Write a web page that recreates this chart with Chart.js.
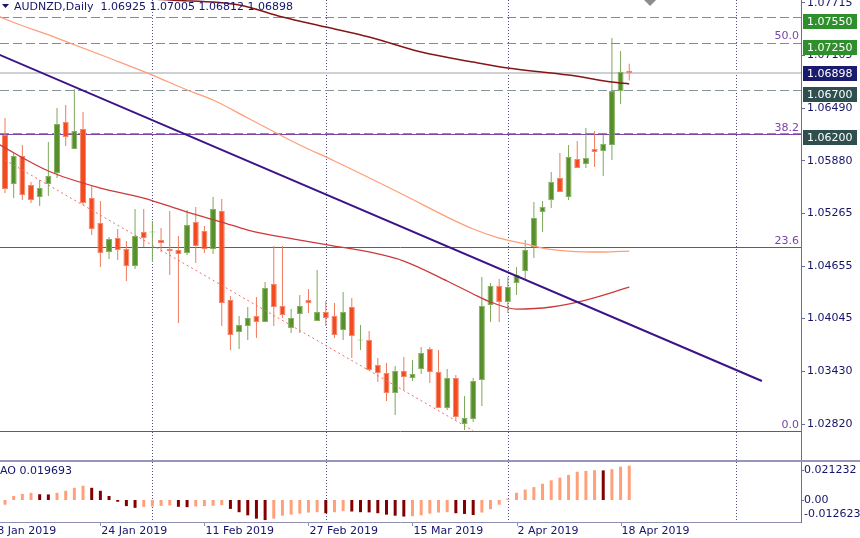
<!DOCTYPE html>
<html>
<head>
<meta charset="utf-8">
<title>AUDNZD Daily</title>
<script src="https://cdn.jsdelivr.net/npm/chart.js@4.4.1/dist/chart.umd.min.js"></script>
<style>
    html, body { margin: 0; padding: 0; background: #fff; }
    #wrap { position: relative; width: 860px; height: 538px; overflow: hidden; }
    #mainChart { position: absolute; left: 0; top: 0; }
    #aoChart { position: absolute; left: 0; top: 460px; }
</style>
</head>
<body>
<div id="wrap">
    <canvas id="mainChart" width="860" height="460"></canvas>
    <canvas id="aoChart" width="860" height="78"></canvas>
</div>
<script>
// Chart data (daily candles, 9 Jan 2019 .. 19 Apr 2019, index 0 = 9 Jan)
const symbol = 'AUDNZD';
const period = 'Daily';

const opens = [
    1.06178, 1.05609, 1.05934, 1.05597, 1.05458, 1.05609, 1.05737, 1.06329, 1.06016, 1.06248,
    1.05446, 1.05156, 1.04819, 1.04981, 1.04854, 1.04656, 1.05051, 1.05045, 1.04958, 1.04854,
    1.04842, 1.04807, 1.05167, 1.05063, 1.04854, 1.05295, 1.04261, 1.03889, 1.03959, 1.04075,
    1.04005, 1.04447, 1.04191, 1.03936, 1.04098, 1.04261, 1.04017, 1.04121, 1.04075, 1.03912,
    1.04180, 1.03790, 1.03796, 1.03506, 1.03413, 1.03180, 1.03436, 1.03355, 1.03459, 1.03692,
    1.03424, 1.03006, 1.03355, 1.02820, 1.02878, 1.03331, 1.04203, 1.04424, 1.04238, 1.04458,
    1.04598, 1.04877, 1.05283, 1.05423, 1.05679, 1.05458, 1.05899, 1.05841, 1.06016, 1.05992,
    1.06062, 1.06689, 1.06925
];
const highs = [
    1.06376, 1.05969, 1.06062, 1.05632, 1.05655, 1.06097, 1.06492, 1.06527, 1.06713, 1.06445,
    1.05586, 1.05411, 1.04993, 1.05086, 1.04946, 1.05318, 1.05318, 1.05179, 1.05098, 1.05295,
    1.05005, 1.05307, 1.05342, 1.05121, 1.05458, 1.05435, 1.04307, 1.04075, 1.04180, 1.04296,
    1.04470, 1.04888, 1.04888, 1.04156, 1.04319, 1.04389, 1.04609, 1.04249, 1.04226, 1.04354,
    1.04284, 1.03970, 1.03901, 1.03587, 1.03529, 1.03494, 1.03599, 1.03564, 1.03715, 1.03715,
    1.03680, 1.03459, 1.03389, 1.03145, 1.03355, 1.04528, 1.04458, 1.04505, 1.04528, 1.04644,
    1.04958, 1.05400, 1.05411, 1.05748, 1.05969, 1.06062, 1.06108, 1.06260, 1.06225, 1.06178,
    1.07305, 1.07154, 1.07005
];
const lows = [
    1.05504, 1.05446, 1.05423, 1.05388, 1.05353, 1.05469, 1.05679, 1.06050, 1.06016, 1.05365,
    1.05016, 1.04644, 1.04737, 1.04726, 1.04482, 1.04621, 1.04877, 1.04702, 1.04819, 1.04551,
    1.03994, 1.04784, 1.04691, 1.04807, 1.04795, 1.03959, 1.03680, 1.03692, 1.03796, 1.03819,
    1.04005, 1.03959, 1.04052, 1.03877, 1.03877, 1.04110, 1.04017, 1.03959, 1.03819, 1.03796,
    1.03587, 1.03680, 1.03447, 1.03308, 1.03087, 1.02925, 1.03215, 1.03320, 1.03401, 1.03296,
    1.03006, 1.02983, 1.02866, 1.02750, 1.02843, 1.03029, 1.04005, 1.04005, 1.04110, 1.04319,
    1.04505, 1.04749, 1.05051, 1.05330, 1.05516, 1.05423, 1.05795, 1.05795, 1.05806, 1.05702,
    1.05888, 1.06538, 1.06812
];
const closes = [
    1.05551, 1.05934, 1.05481, 1.05423, 1.05562, 1.05702, 1.06306, 1.06155, 1.06225, 1.05388,
    1.05086, 1.04807, 1.04970, 1.04842, 1.04656, 1.05005, 1.04981, 1.05057, 1.04923, 1.04830,
    1.04795, 1.05132, 1.04888, 1.04854, 1.05318, 1.04226, 1.03854, 1.03970, 1.04052, 1.04005,
    1.04400, 1.04180, 1.04087, 1.04052, 1.04191, 1.04226, 1.04121, 1.04052, 1.03854, 1.04121,
    1.03843, 1.03802, 1.03447, 1.03413, 1.03180, 1.03436, 1.03366, 1.03401, 1.03645, 1.03424,
    1.03006, 1.03355, 1.02901, 1.02890, 1.03320, 1.04191, 1.04424, 1.04238, 1.04412, 1.04551,
    1.04842, 1.05214, 1.05342, 1.05632, 1.05516, 1.05923, 1.05795, 1.05911, 1.05981, 1.06074,
    1.06689, 1.06910, 1.06898
];

// Awesome Oscillator, one value per candle
const aoValues = [
    -0.0027, 0.0023, 0.0035, 0.0041, 0.0033, 0.0032, 0.0041, 0.0053, 0.0070, 0.0082,
    0.0070, 0.0053, 0.0023, -0.0010, -0.0035, -0.0045, -0.0039, -0.0037, -0.0034, -0.0031,
    -0.0039, -0.0041, -0.0037, -0.0035, -0.0033, -0.0029, -0.0051, -0.0070, -0.0088, -0.0107,
    -0.0115, -0.0107, -0.0090, -0.0084, -0.0078, -0.0072, -0.0070, -0.0076, -0.0070, -0.0064,
    -0.0066, -0.0070, -0.0071, -0.0076, -0.0084, -0.0090, -0.0095, -0.0093, -0.0088, -0.0078,
    -0.0072, -0.0070, -0.0076, -0.0080, -0.0086, -0.0072, -0.0053, -0.0027, 0.0008, 0.0041,
    0.0060, 0.0074, 0.0093, 0.0113, 0.0128, 0.0144, 0.0162, 0.0167, 0.0171, 0.0170,
    0.0177, 0.0191, 0.019693
];

// Moving averages, read at some candles
const slowMaIdx = [10, 17, 19, 27, 32, 37, 42, 48, 54, 58, 65, 70, 72];
const slowMa = [1.07817, 1.07759, 1.07747, 1.07689, 1.07549, 1.07433, 1.07317, 1.07143, 1.07026, 1.06957, 1.06875, 1.06794, 1.06771];
const midMaIdx = [-1, 0, 6, 12, 17, 21, 24, 28, 34, 38, 46, 51, 54, 57, 60, 62, 65, 69, 72];
const midMa = [1.07573, 1.07526, 1.07305, 1.07073, 1.06875, 1.06701, 1.06585, 1.06376, 1.06062, 1.05876, 1.05481, 1.05225, 1.05086, 1.04981, 1.04912, 1.04865, 1.04830, 1.04819, 1.04830];
const fastMaIdx = [-1, 5, 11, 16, 21, 25, 28, 34, 38, 42, 46, 51, 54, 56, 59, 63, 67, 72];
const fastMa = [1.06085, 1.05760, 1.05562, 1.05446, 1.05283, 1.05167, 1.05074, 1.04958, 1.04888, 1.04819, 1.04714, 1.04482, 1.04331, 1.04238, 1.04156, 1.04180, 1.04261, 1.04412];

// Drawn objects
const trendIdx = [-1, 87.3];
const trendPrice = [1.07126, 1.03320];
const channelIdx = [0, 54];
const channelPrice = [1.05888, 1.02742];
const targetLevels = [1.07550, 1.07250];
const pivotLevels = [1.06700, 1.06200];
const fibLow = 1.02742;
const fibHigh = 1.11772;
const fibLevels = [0.0, 23.6, 38.2, 50.0];

// Axes
const priceTicks = [1.07715, 1.07105, 1.06490, 1.05880, 1.05265, 1.04655, 1.04045, 1.03430, 1.02820];
const aoMax = 0.021232;
const aoMin = -0.012623;
const xTickIdx = [-1, 11, 23, 35, 47, 59, 71];
const xTickLabels = ['8 Jan 2019', '24 Jan 2019', '11 Feb 2019', '27 Feb 2019', '15 Mar 2019', '2 Apr 2019', '18 Apr 2019'];
const monthGridIdx = [17, 37, 58, 84.3];

// visible window
const xMin = -0.577;
const xMax = 91.81;
const yMin = 1.02402;
const yMax = 1.07747;

Chart.defaults.font.family = 'DejaVu Sans';
Chart.defaults.font.size = 11;
Chart.defaults.color = '#14146a';

const TEXT = '#14146a';
const AXIS = '#6d6d9d';
const FIB = '#7a44a8';

const pts = (idx, vals) => idx.map((x, k) => ({ x: x, y: vals[k] }));
const last = closes.length - 1;
const up = opens.map((o, i) => closes[i] >= o);

function hLine(ctx, py, x0, x1) {
    const yy = Math.round(py) + 0.5;
    ctx.beginPath();
    ctx.moveTo(x0, yy);
    ctx.lineTo(x1, yy);
    ctx.stroke();
}

function vLine(ctx, px, y0, y1) {
    const xx = Math.round(px) + 0.5;
    ctx.beginPath();
    ctx.moveTo(xx, y0);
    ctx.lineTo(xx, y1);
    ctx.stroke();
}

const fibPrice = lv => fibLow + (fibHigh - fibLow) * lv / 100;

// right axis keeps the full height, no room reserved for the end labels
function fixAxis(scale) {
    scale.width = 59;
    scale.paddingTop = 0;
    scale.paddingBottom = 0;
}

// Levels, grid and labels of the price window
const mainOverlay = {
    id: 'mainOverlay',
    beforeDatasetsDraw(chart) {
        const { ctx, chartArea: a, scales: { x, y } } = chart;
        ctx.save();
        ctx.lineWidth = 1;

        // month separators
        ctx.strokeStyle = '#4b4b85';
        ctx.setLineDash([1, 2]);
        monthGridIdx.forEach(i => vLine(ctx, x.getPixelForValue(i), a.top, a.bottom));

        // fibonacci lines (the 50.0 one hides under the 1.07250 target)
        ctx.setLineDash([]);
        ctx.strokeStyle = FIB;
        fibLevels.forEach(lv => {
            if (lv < 50) hLine(ctx, y.getPixelForValue(fibPrice(lv)), a.left, a.right);
        });

        // bid line
        ctx.strokeStyle = '#cdd1d5';
        ctx.lineWidth = 2;
        const by = Math.round(y.getPixelForValue(closes[last]));
        ctx.beginPath();
        ctx.moveTo(a.left, by);
        ctx.lineTo(a.right, by);
        ctx.stroke();

        // dashed levels
        ctx.lineWidth = 1;
        ctx.setLineDash([9, 4]);
        ctx.strokeStyle = '#55b04f';
        targetLevels.forEach(v => hLine(ctx, y.getPixelForValue(v), a.left, a.right));
        ctx.strokeStyle = '#85959a';
        pivotLevels.forEach(v => hLine(ctx, y.getPixelForValue(v), a.left, a.right));
        ctx.restore();
    },
    afterDraw(chart) {
        const { ctx, chartArea: a, scales: { x, y } } = chart;
        ctx.save();
        ctx.font = '11px "DejaVu Sans"';

        // fib labels
        ctx.fillStyle = FIB;
        ctx.textAlign = 'right';
        ctx.textBaseline = 'alphabetic';
        fibLevels.forEach(lv => {
            const py = Math.round(y.getPixelForValue(fibPrice(lv)));
            ctx.fillText(lv.toFixed(1), a.right - 2, py - 3);
        });

        // title
        ctx.textAlign = 'left';
        ctx.textBaseline = 'middle';
        ctx.fillStyle = TEXT;
        ctx.beginPath();
        ctx.moveTo(2, 4);
        ctx.lineTo(9, 4);
        ctx.lineTo(5.5, 8);
        ctx.closePath();
        ctx.fill();
        const ohlc = [opens[last], highs[last], lows[last], closes[last]].map(v => v.toFixed(5)).join(' ');
        ctx.fillText(symbol + ',' + period + '  ' + ohlc, 14, 7);

        // chart shift marker
        const sx = x.getPixelForValue(74.4);
        ctx.fillStyle = '#8c8c8c';
        ctx.beginPath();
        ctx.moveTo(sx - 6, 0);
        ctx.lineTo(sx + 6, 0);
        ctx.lineTo(sx, 6);
        ctx.closePath();
        ctx.fill();

        // price boxes on the axis
        const box = (v, bg, dy) => {
            const top = Math.round(y.getPixelForValue(v)) - dy;
            ctx.fillStyle = bg;
            ctx.fillRect(a.right + 2, top, 54, 15);
            ctx.fillStyle = '#ffffff';
            ctx.fillText(v.toFixed(5), a.right + 6, top + 8);
        };
        targetLevels.forEach(v => box(v, '#2f8f2c', 3));
        pivotLevels.forEach(v => box(v, '#2f4f4f', 3));
        box(closes[last], '#1b1b6e', 7);
        ctx.restore();
    }
};

// AO window decorations
const aoOverlay = {
    id: 'aoOverlay',
    beforeDatasetsDraw(chart) {
        const { ctx, chartArea: a, scales: { x } } = chart;
        ctx.save();
        ctx.lineWidth = 1;
        ctx.strokeStyle = '#4b4b85';
        ctx.setLineDash([1, 2]);
        monthGridIdx.forEach(i => vLine(ctx, x.getPixelForValue(i), 2, a.bottom));
        ctx.restore();
    },
    afterDraw(chart) {
        const { ctx, chartArea: a, scales: { x, y } } = chart;
        ctx.save();
        ctx.fillStyle = '#9696ba';
        ctx.fillRect(0, 0, chart.width, 2);

        ctx.strokeStyle = AXIS;
        ctx.lineWidth = 1;
        vLine(ctx, a.right, 2, a.bottom + 1);
        ctx.strokeStyle = '#8f8fb0';
        hLine(ctx, a.bottom, a.left, a.right);

        ctx.font = '11px "DejaVu Sans"';
        ctx.fillStyle = TEXT;
        ctx.textBaseline = 'middle';
        ctx.textAlign = 'left';
        ctx.fillText('AO ' + aoValues[last].toFixed(6), 0, 11);

        // value labels
        const zy = y.getPixelForValue(0);
        const marks = [[aoMax.toFixed(6), y.getPixelForValue(aoMax) + 7], ['0.00', zy], [aoMin.toFixed(6), y.getPixelForValue(aoMin) - 8]];
        ctx.strokeStyle = AXIS;
        marks.forEach(([t, py]) => {
            ctx.fillText(t, a.right + 3, py);
        });
        [marks[0][1], zy].forEach(py => {
            ctx.beginPath();
            ctx.moveTo(a.right, Math.round(py) + 0.5);
            ctx.lineTo(a.right + 3, Math.round(py) + 0.5);
            ctx.stroke();
        });

        // date labels
        ctx.strokeStyle = '#8f8fb0';
        xTickIdx.forEach((i, k) => {
            const px = x.getPixelForValue(i);
            vLine(ctx, px, a.bottom, a.bottom + 4);
            ctx.fillText(xTickLabels[k], px + 1, a.bottom + 9);
        });
        ctx.restore();
    }
};

let mainChart;
let aoChart;

function initializeCharts() {
    const idx = opens.map((_, i) => i);

    mainChart = new Chart(document.getElementById('mainChart').getContext('2d'), {
        type: 'bar',
        data: {
            datasets: [
                {
                    type: 'line', label: 'Trend', data: pts(trendIdx, trendPrice),
                    borderColor: '#3b1487', borderWidth: 2, pointRadius: 0, order: 0
                },
                {
                    type: 'line', label: 'Channel', data: pts(channelIdx, channelPrice),
                    borderColor: '#f06a6a', borderWidth: 1, borderDash: [2, 3], pointRadius: 0, order: 0
                },
                {
                    type: 'line', label: 'Slow MA', data: pts(slowMaIdx, slowMa),
                    borderColor: '#861515', borderWidth: 1.5, pointRadius: 0,
                    cubicInterpolationMode: 'monotone', order: 1
                },
                {
                    type: 'line', label: 'Mid MA', data: pts(midMaIdx, midMa),
                    borderColor: '#ff9e78', borderWidth: 1.3, pointRadius: 0,
                    cubicInterpolationMode: 'monotone', order: 1
                },
                {
                    type: 'line', label: 'Fast MA', data: pts(fastMaIdx, fastMa),
                    borderColor: '#cc3a3a', borderWidth: 1.3, pointRadius: 0,
                    cubicInterpolationMode: 'monotone', order: 1
                },
                {
                    label: 'Bodies',
                    data: idx.map(i => ({ x: i, y: [Math.min(opens[i], closes[i]), Math.max(opens[i], closes[i])] })),
                    backgroundColor: idx.map(i => up[i] ? '#578f2a' : '#f24b1f'),
                    borderColor: idx.map(i => up[i] ? '#86b062' : '#f5856a'),
                    borderWidth: 1, borderSkipped: false, barThickness: 6,
                    grouped: false, inflateAmount: 0, order: 3
                },
                {
                    label: 'Wicks',
                    data: idx.map(i => ({ x: i, y: [lows[i], highs[i]] })),
                    backgroundColor: idx.map(i => up[i] ? '#7ea85c' : '#f07a5e'),
                    barThickness: 1, grouped: false, inflateAmount: 0, order: 4
                }
            ]
        },
        options: {
            responsive: false,
            animation: false,
            devicePixelRatio: 1,
            layout: { padding: 0 },
            plugins: { legend: { display: false }, tooltip: { enabled: false } },
            scales: {
                x: { type: 'linear', min: xMin, max: xMax, offset: false, display: false },
                y: {
                    position: 'right',
                    min: yMin,
                    max: yMax,
                    afterFit: fixAxis,
                    afterBuildTicks(scale) { scale.ticks = priceTicks.map(v => ({ value: v })); },
                    grid: { drawOnChartArea: false, tickLength: 4, color: AXIS },
                    border: { color: AXIS },
                    ticks: { color: TEXT, padding: 2, autoSkip: false, callback: v => v.toFixed(5) }
                }
            }
        },
        plugins: [mainOverlay]
    });

    aoChart = new Chart(document.getElementById('aoChart').getContext('2d'), {
        type: 'bar',
        data: {
            datasets: [{
                label: 'AO',
                data: idx.map(i => ({ x: i, y: aoValues[i] })),
                backgroundColor: idx.map(i => (i === 0 || aoValues[i] > aoValues[i - 1]) ? '#ffa07a' : '#820000'),
                barThickness: 3, grouped: false, inflateAmount: 0
            }]
        },
        options: {
            responsive: false,
            animation: false,
            devicePixelRatio: 1,
            layout: { padding: { top: 3, bottom: 16 } },
            plugins: { legend: { display: false }, tooltip: { enabled: false } },
            scales: {
                x: { type: 'linear', min: xMin, max: xMax, offset: false, display: false },
                y: {
                    position: 'right',
                    min: aoMin,
                    max: aoMax,
                    afterFit: fixAxis,
                    grid: { display: false },
                    border: { display: false },
                    ticks: { display: false }
                }
            }
        },
        plugins: [aoOverlay]
    });
}

initializeCharts();
</script>
</body>
</html>
